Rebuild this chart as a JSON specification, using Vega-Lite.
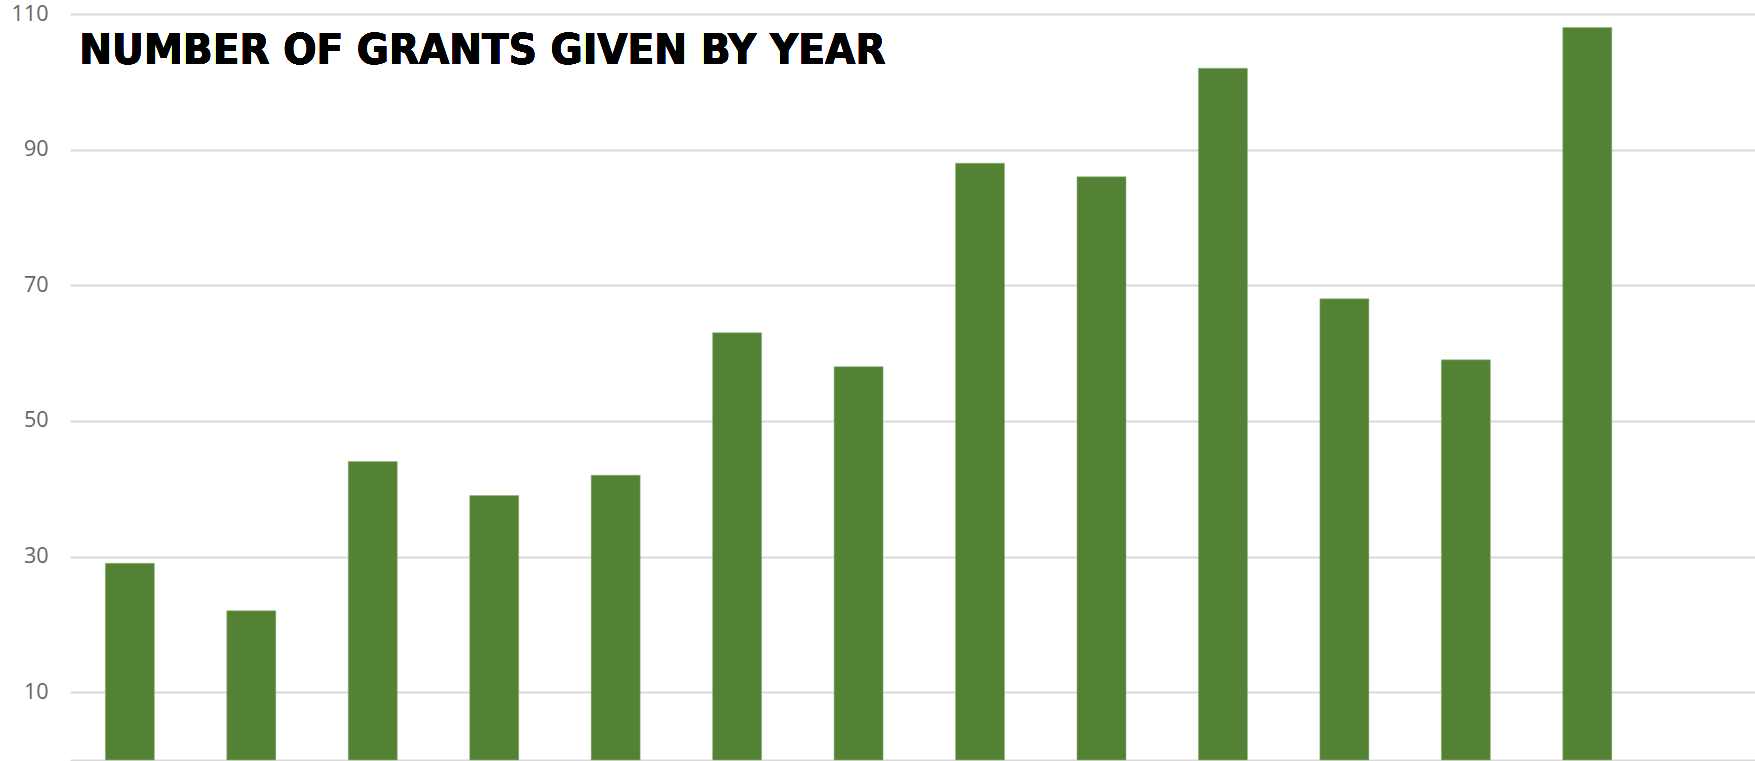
{
  "$schema": "https://vega.github.io/schema/vega-lite/v6.json",
  "width": 1685,
  "height": 746,
  "autosize": "none",
  "padding": {"left": 70, "top": 14, "right": 0, "bottom": 1},
  "background": "white",
  "data": {
    "values": [
      {"year": 1, "grants": 29},
      {"year": 2, "grants": 22},
      {"year": 3, "grants": 44},
      {"year": 4, "grants": 39},
      {"year": 5, "grants": 42},
      {"year": 6, "grants": 63},
      {"year": 7, "grants": 58},
      {"year": 8, "grants": 88},
      {"year": 9, "grants": 86},
      {"year": 10, "grants": 102},
      {"year": 11, "grants": 68},
      {"year": 12, "grants": 59},
      {"year": 13, "grants": 108}
    ]
  },
  "layer": [
    {
      "mark": {"type": "bar", "color": "#548235", "stroke": "#8fb07a", "strokeWidth": 0.5},
      "encoding": {
        "x": {
          "field": "year",
          "type": "ordinal",
          "sort": null,
          "scale": {"paddingInner": 0.5965, "paddingOuter": 0.735, "align": 0.198},
          "axis": {
            "title": null,
            "labels": false,
            "ticks": false,
            "domain": true,
            "domainColor": "#d9d9d9",
            "domainWidth": 2,
            "grid": false
          }
        },
        "y": {
          "field": "grants",
          "type": "quantitative",
          "scale": {"domain": [0, 110], "nice": false},
          "axis": {
            "title": null,
            "values": [10, 30, 50, 70, 90, 110],
            "ticks": false,
            "domain": false,
            "grid": true,
            "gridColor": "#d9d9d9",
            "gridWidth": 2,
            "labelFont": "Open Sans",
            "labelFontSize": 21.5,
            "labelColor": "#666666",
            "labelPadding": 22
          }
        }
      }
    },
    {
      "mark": {
        "type": "text",
        "text": "NUMBER OF GRANTS GIVEN BY YEAR",
        "font": "DejaVu Sans Condensed",
        "fontSize": 43.5,
        "fontWeight": "bold",
        "color": "#000000",
        "align": "left",
        "baseline": "alphabetic",
        "dx": -26
      },
      "encoding": {
        "x": {"datum": 1, "type": "ordinal", "bandPosition": 0},
        "y": {"datum": 102.6, "type": "quantitative"}
      }
    }
  ],
  "config": {"view": {"stroke": null}}
}
